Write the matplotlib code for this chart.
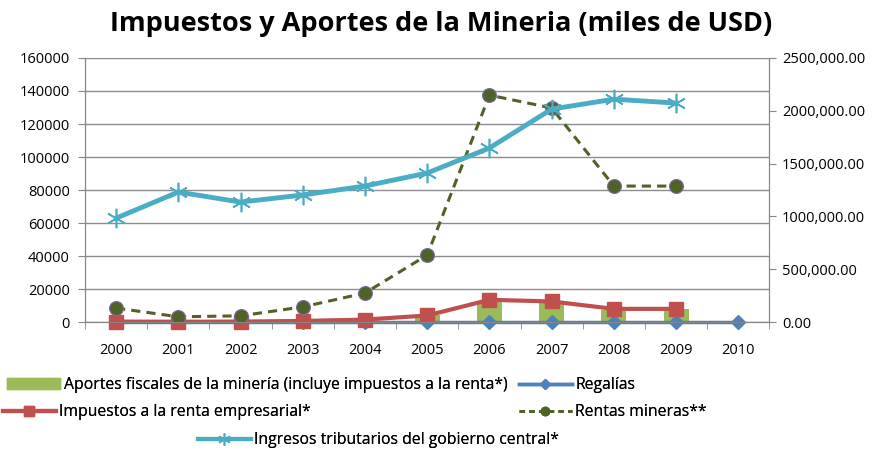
import numpy as np
import matplotlib.pyplot as plt
from matplotlib.patches import Patch
from matplotlib.lines import Line2D

# --- data (miles de USD) ---
years = [2000, 2001, 2002, 2003, 2004, 2005, 2006, 2007, 2008, 2009, 2010]
aportes = [0, 0, 0, 0, 0, 4000, 12500, 12000, 7500, 8000, 0]
regalias = [0, 0, 0, 0, 0, 0, 0, 0, 0, 0, 0]
impuestos_renta = [300, 200, 300, 700, 1500, 4000, 13500, 12500, 8000, 8000]
rentas_mineras = [8500, 3200, 3800, 9200, 17600, 40600, 137500, 129700, 82400, 82400]
ingresos_trib = [984000, 1231000, 1136000, 1203000, 1288000, 1411000,
                 1648000, 2016000, 2110000, 2073000]

left_ticks = [0, 20000, 40000, 60000, 80000, 100000, 120000, 140000, 160000]
right_ticks = [0, 500000, 1000000, 1500000, 2000000, 2500000]
right_labels = ["0.00", "500,000.00", "1000,000.00", "1500,000.00",
                "2000,000.00", "2500,000.00"]

plt.rcParams['font.family'] = ['Open Sans', 'DejaVu Sans']

GREEN = '#9bbb59'
BLUE = '#4f81bd'
RED = '#c0504d'
DKGREEN = '#4f6228'
CYAN = '#4bacc6'

fig = plt.figure(figsize=(8.82, 4.53), dpi=100)
ax = fig.add_axes([0.0964, 0.289, 0.776, 0.583])
ax2 = ax.twinx()

ax.bar(years, aportes, width=0.40, color=GREEN, zorder=2)
ax.plot(years, regalias, color=BLUE, lw=2.5, marker='D', ms=7, zorder=3,
        clip_on=False)
ax.plot(years[:len(impuestos_renta)], impuestos_renta, color=RED, lw=3,
        marker='s', ms=10, zorder=4, clip_on=False)

yr = years[:len(rentas_mineras)]
ax.plot(yr, rentas_mineras, color=DKGREEN, lw=2.2, ls=(0, (3, 2)),
        marker='o', ms=10, mec='#7e6aa8', mew=0.8, zorder=5)

yi = years[:len(ingresos_trib)]
ax2.plot(yi, ingresos_trib, color=CYAN, lw=3.5, marker=(6, 2, 0), ms=14,
         mew=1.2, zorder=5)

ax.set_xlim(1999.5, 2010.5)
ax.set_ylim(0, 160000)
ax2.set_ylim(0, 2500000)
ax.set_yticks(left_ticks)
ax.set_yticklabels([str(v) for v in left_ticks])
ax2.set_yticks(right_ticks)
ax2.set_yticklabels(right_labels)
ax.set_xticks(years)
ax.set_xticklabels([str(y) for y in years])
ax.set_xticks(np.arange(1999.5, 2010.6, 1), minor=True)
ax.tick_params(axis='x', which='major', length=0, pad=15, labelsize=10.5)
ax.tick_params(axis='x', which='minor', length=5, color='#868686', direction='out')
ax.tick_params(axis='y', length=5, color='#868686', labelsize=10.5, pad=6)
ax2.tick_params(axis='y', length=5, color='#868686', labelsize=10.5, pad=4)

ax.grid(axis='y', color='#8c8c8c', lw=1)
ax.set_axisbelow(True)
for a in (ax, ax2):
    a.spines['top'].set_visible(False)
    for s in ('left', 'right', 'bottom'):
        a.spines[s].set_color('#868686')
ax2.set_zorder(ax.get_zorder() + 1)
ax2.patch.set_visible(False)

fig.text(0.5, 0.948, 'Impuestos y Aportes de la Mineria (miles de USD)',
         ha='center', va='center', fontsize=19.5, fontweight='bold')

# legend entries placed like the original layout
entries = [
    (Patch(color=GREEN), 'Aportes fiscales de la minería (incluye impuestos a la renta*)', 0.008, 0.150),
    (Line2D([], [], color=BLUE, lw=2.5, marker='D', ms=5), 'Regalías', 0.588, 0.150),
    (Line2D([], [], color=RED, lw=3, marker='s', ms=7), 'Impuestos a la renta empresarial*', 0.003, 0.090),
    (Line2D([], [], color=DKGREEN, lw=2, ls=(0, (2, 1.5)), marker='o', ms=6), 'Rentas mineras**', 0.588, 0.090),
    (Line2D([], [], color=CYAN, lw=3, marker=(6, 2, 0), ms=9, mew=1), 'Ingresos tributarios del gobierno central*', 0.224, 0.028),
]
for h, lab, x0, y0 in entries:
    leg = fig.legend([h], [lab], loc='center left', bbox_to_anchor=(x0, y0),
                     frameon=False, fontsize=11.3, handlelength=3.4,
                     handletextpad=0.2, borderpad=0, borderaxespad=0)
    fig.add_artist(leg)

fig.savefig('out.png', dpi=100)
